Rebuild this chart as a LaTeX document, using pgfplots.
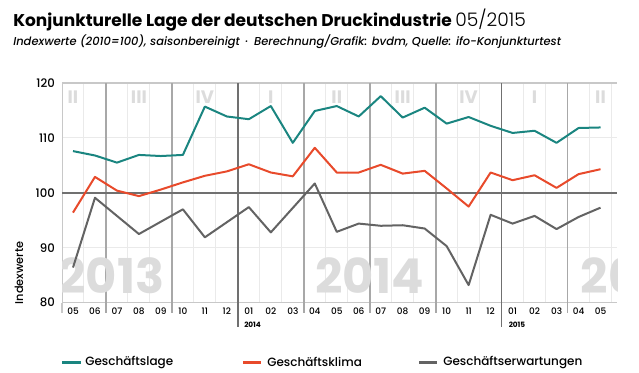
\documentclass[border=0pt]{standalone}
\usepackage{pgfplots}
\pgfplotsset{compat=1.18}
\usepackage{pgfplotstable}
\usepackage{fontspec}
\setmainfont{Poppins}
\IfFontExistsTF{Poppins Light}{\newfontfamily\plight{Poppins Light}}{\newfontfamily\plight{Poppins}}
\IfFontExistsTF{Poppins Medium}{\newfontfamily\pmed{Poppins Medium}[ItalicFont={Poppins Medium Italic}]}{\newfontfamily\pmed{Poppins}}
\definecolor{teal1}{HTML}{1A8580}
\definecolor{red1}{HTML}{E84A2B}
\definecolor{gray1}{HTML}{636363}
\definecolor{bigtxt}{HTML}{DCDCDC}
\definecolor{gridL}{HTML}{EAEAEA}
\definecolor{gridE}{HTML}{C8C8C8}
\definecolor{gridM}{HTML}{A8A8A8}
\definecolor{gridD}{HTML}{707070}

\pgfplotstableread{
x lage klima erw
0 107.6 96.4 86.4
1 106.8 102.9 99.1
2 105.5 100.4 95.8
3 106.9 99.4 92.5
4 106.7 100.6 94.75
5 106.9 101.9 97.0
6 115.7 103.1 91.9
7 113.9 103.9 94.65
8 113.4 105.2 97.4
9 115.8 103.7 92.8
10 109.1 103.0 97.25
11 114.9 108.2 101.7
12 115.8 103.7 92.9
13 113.9 103.7 94.4
14 117.6 105.1 94.0
15 113.7 103.5 94.1
16 115.5 104.0 93.5
17 112.6 100.8 90.3
18 113.8 97.5 83.2
19 112.2 103.7 96.0
20 110.9 102.3 94.4
21 111.3 103.2 95.8
22 109.1 100.9 93.4
23 111.8 103.4 95.6
24 111.9 104.3 97.3
}\data

\tikzset{qlab/.style={text=bigtxt, font=\fontsize{13.5}{14}\selectfont\bfseries, anchor=center, inner sep=0pt},
         ylab/.style={text=bigtxt, font=\fontsize{36}{36}\selectfont\bfseries, anchor=center, inner sep=0pt}}

\begin{document}
\begin{tikzpicture}
\path[use as bounding box] (0,0) rectangle (479.25pt,279pt);
\begin{axis}[
  at={(46.5pt,51.98pt)}, anchor=south west,
  scale only axis, width=416.25pt, height=164.8pt,
  xmin=-0.5, xmax=24.75, ymin=80, ymax=120,
  axis line style={draw=none},
  major tick length=0pt,
  xtick={0,...,24},
  xticklabels={05,06,07,08,09,10,11,12,01,02,03,04,05,06,07,08,09,10,11,12,01,02,03,04,05},
  ytick={80,90,100,110,120},
  xticklabel style={font=\pmed\fontsize{6.7}{7}\selectfont, inner sep=0pt, anchor=north, yshift=-3.6pt},
  yticklabel style={font=\pmed\fontsize{8.8}{9}\selectfont, inner sep=0pt, anchor=east, xshift=-5.2pt},
  /pgf/number format/assume math mode=true,
]
% light month grid
\pgfplotsinvokeforeach{0.5,1.5,...,24.5}{\draw[gridL, line width=0.75pt] (axis cs:#1,80) -- (axis cs:#1,120);}
\draw[gridL, line width=0.75pt] (axis cs:-0.5,110) -- (axis cs:24.75,110);
\draw[gridL, line width=0.75pt] (axis cs:-0.5,90) -- (axis cs:24.75,90);
\draw[gridE, line width=1.1pt] (axis cs:-0.5,120) -- (axis cs:24.75,120);
\draw[gridE, line width=1.1pt] (axis cs:-0.5,80) -- (axis cs:24.75,80);
\draw[gridE, line width=1.1pt] (axis cs:-0.5,80) -- (axis cs:-0.5,120);
% quarter lines
\pgfplotsinvokeforeach{1.5,4.5,10.5,13.5,16.5,22.5}{\draw[gridM, line width=1.3pt] (axis cs:#1,80) -- (axis cs:#1,120);}
\draw[gridD, line width=1.1pt] (axis cs:-0.5,100) -- (axis cs:24.75,100);
\draw[gridD, line width=1.3pt] (axis cs:7.5,80) -- (axis cs:7.5,120);
\draw[gridD, line width=1.3pt] (axis cs:19.5,80) -- (axis cs:19.5,120);
% coordinates for extensions
\coordinate (ql) at (axis cs:-0.5,80);
\coordinate (q1) at (axis cs:1.5,80);
\coordinate (q2) at (axis cs:4.5,80);
\coordinate (q3) at (axis cs:10.5,80);
\coordinate (q4) at (axis cs:13.5,80);
\coordinate (q5) at (axis cs:16.5,80);
\coordinate (q6) at (axis cs:22.5,80);
\coordinate (y1) at (axis cs:7.5,80);
\coordinate (y2) at (axis cs:19.5,80);
% big year watermarks, clipped to the plot area
\begin{scope}
\clip (axis cs:-0.5,80) rectangle (axis cs:24.8,120);
\node[ylab] at (axis cs:1.75,84.85) {2013};
\node[ylab] at (axis cs:13.5,84.85) {2014};
\node[ylab] at (axis cs:25.55,84.85) {2015};
\end{scope}
% quarter labels
\node[qlab] at (axis cs:0,117.5) {II};
\node[qlab] at (axis cs:3,117.5) {III};
\node[qlab] at (axis cs:6,117.5) {IV};
\node[qlab] at (axis cs:9,117.5) {I};
\node[qlab] at (axis cs:12,117.5) {II};
\node[qlab] at (axis cs:15,117.5) {III};
\node[qlab] at (axis cs:18,117.5) {IV};
\node[qlab] at (axis cs:21,117.5) {I};
\node[qlab] at (axis cs:24,117.5) {II};
\addplot[teal1, line width=1.5pt, line join=round] table[x=x,y=lage]{\data};
\addplot[red1, line width=1.5pt, line join=round] table[x=x,y=klima]{\data};
\addplot[gray1, line width=1.5pt, line join=round] table[x=x,y=erw]{\data};
\end{axis}
% extensions below axis
\draw[gridE, line width=1.1pt] (ql) -- ++(0,-7.7pt);
\foreach \c in {q1,q2,q3,q4,q5,q6}{\draw[gridM, line width=1.3pt] (\c) -- ++(0,-7.7pt);}
\draw[gridD, line width=1.3pt] (y1) -- ++(0,-18.2pt);
\draw[gridD, line width=1.3pt] (y2) -- ++(0,-18.2pt);
\begin{scope}[x=0.75pt, y=-0.75pt, shift={(0,279pt)}]
\node[anchor=base west, inner sep=0pt] at (13,26.3) {\fontsize{12.75}{16}\selectfont\bfseries Konjunkturelle Lage der deutschen Druckindustrie\ {\plight\mdseries\fontsize{14}{16}\selectfont 05/2015}};
\node[anchor=base west, inner sep=0pt] at (13,45.3) {\pmed\itshape\fontsize{8.6}{10}\selectfont Indexwerte (2010=100), saisonbereinigt\enspace·\enspace Berechnung/Grafik: bvdm, Quelle: ifo-Konjunkturtest};
\node[rotate=90, anchor=center, inner sep=0pt] at (19,273) {\pmed\fontsize{8.5}{10}\selectfont Indexwerte};
\node[anchor=west, inner sep=0pt] at (244,324.3) {\fontsize{5.5}{6}\selectfont\bfseries 2014};
\node[anchor=west, inner sep=0pt] at (508.5,324.3) {\fontsize{5.5}{6}\selectfont\bfseries 2015};
% legend
\draw[teal1, line width=2.25pt] (62,362) -- (81,362);
\node[anchor=west, inner sep=0pt] at (85,362) {\pmed\fontsize{9}{10}\selectfont Geschäftslage};
\draw[red1, line width=2.25pt] (243,362) -- (261,362);
\node[anchor=west, inner sep=0pt] at (267,362) {\pmed\fontsize{9}{10}\selectfont Geschäftsklima};
\draw[gray1, line width=2.25pt] (419,362) -- (437,362);
\node[anchor=west, inner sep=0pt] at (443,362) {\pmed\fontsize{9}{10}\selectfont Geschäftserwartungen};
\end{scope}
\end{tikzpicture}
\end{document}
